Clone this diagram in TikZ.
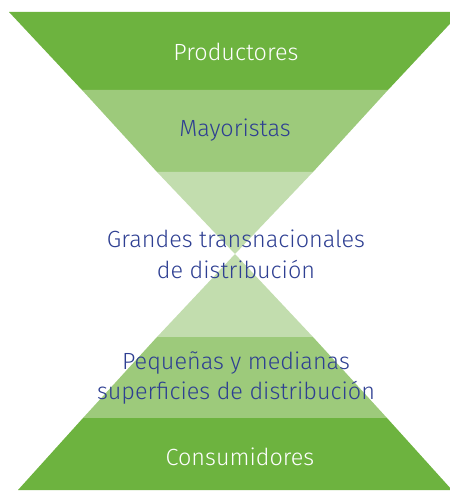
\documentclass[tikz,border=0pt]{standalone}
\usepackage{fontspec}
\setmainfont{Fira Sans Light}
\definecolor{gdark}{HTML}{6DB33F}
\definecolor{gmid}{HTML}{9DCA7B}
\definecolor{glight}{HTML}{C2DDAE}
\definecolor{tblue}{HTML}{2E3F92}
\tikzset{
  band/.style={draw=none},
  lbl/.style={font=\fontsize{23.5}{31}\selectfont, align=center, inner sep=0pt},
  wlbl/.style={lbl, text=white},
  blbl/.style={lbl, text=tblue}
}
\begin{document}
\begin{tikzpicture}[x=1bp,y=-1bp]
\useasboundingbox (0,0) rectangle (450,491);
\clip (0,0) rectangle (450,491);
% top inverted triangle
\fill[gdark]  (9,12) -- (461,12) -- (388,90) -- (82,90) -- cycle;
\fill[gmid]   (82,90) -- (388,90) -- (313,172) -- (157,172) -- cycle;
\fill[glight] (157,172) -- (313,172) -- (235,254) -- cycle;
% bottom triangle
\fill[glight] (235,254) -- (313,337) -- (157,337) -- cycle;
\fill[gmid]   (157,337) -- (313,337) -- (387,418) -- (83,418) -- cycle;
\fill[gdark]  (83,418) -- (387,418) -- (452,490) -- (18,490) -- cycle;
% labels
\node[wlbl] (prod) at (236,52) {Productores};
\node[blbl] (may) at (235,130) {Mayoristas};
\node[blbl] (gran) at (236,254) {Grandes transnacionales\\de distribución};
\node[blbl] (peq) at (236,378) {Pequeñas y medianas\\superficies de distribución};
\node[wlbl] (cons) at (240,457) {Consumidores};
\end{tikzpicture}
\end{document}
